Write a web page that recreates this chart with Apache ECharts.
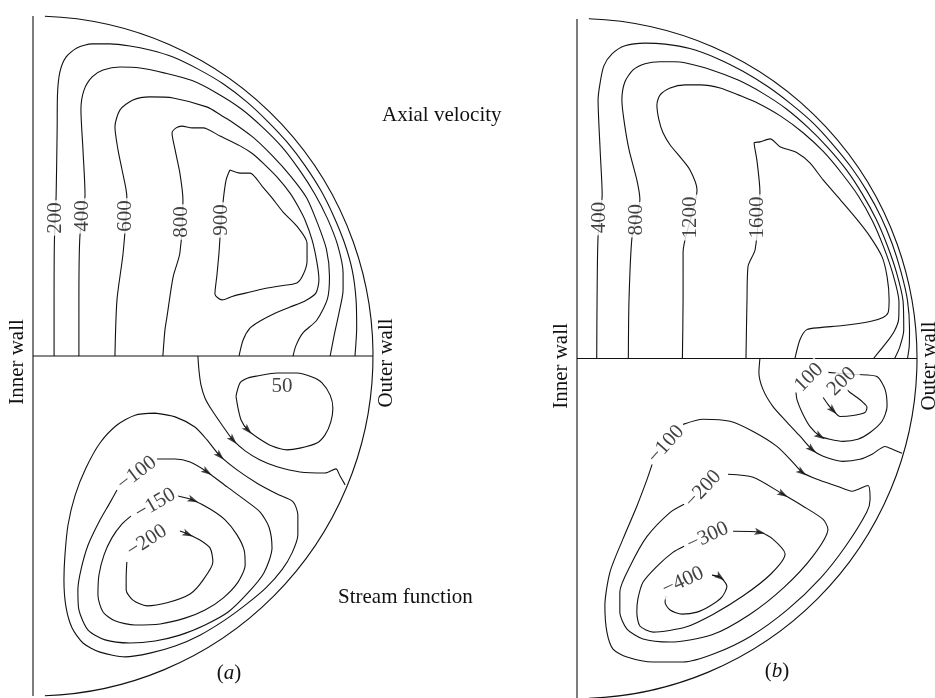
<!DOCTYPE html>
<html><head><meta charset="utf-8">
<script src="https://cdn.jsdelivr.net/npm/echarts@6/dist/echarts.min.js"></script>
<style>html,body{margin:0;padding:0;background:#fff}#c{width:935px;height:698px}</style>
</head><body><div id="c"></div>
<script>
// Coordinates: x = distance from inner wall, y = distance from the mid-plane, both in % of pipe radius.
// ---------- Panel (a) : axial velocity contours (upper half) ----------
const A_U200 = [[6.2,0],[6.2,16.5],[6.3,33.8],[6.8,47.1],[7.1,66.5],[7.2,76.8],[7.9,83.5],[9.7,87.9],[12.9,90.6],[17.4,91.8],[22.6,91.8],[28.5,91.2],[34.4,90.0],[41.0,88.0],[48.7,84.3],[56.0,80.0],[62.8,74.8],[69.0,69.0],[74.8,62.8],[80.0,56.0],[84.6,48.8],[88.4,41.2],[91.6,33.3],[93.9,25.2],[95.0,16.8],[95.2,8.3],[94.7,0]];
const A_U400 = [[13.5,0],[13.5,16.5],[13.8,35.3],[15.3,47.4],[14.7,60.6],[14.1,72.4],[15.0,78.2],[17.4,82.1],[20.6,84.1],[25.6,85.0],[31.5,84.7],[38.8,83.2],[46.8,81.0],[54.1,77.3],[61.1,72.8],[67.4,67.4],[73.2,61.5],[78.3,54.8],[82.8,47.8],[86.6,40.4],[89.6,32.6],[91.2,24.4],[91.2,19.4],[90.0,12.7],[88.6,6.2],[87.4,0]];
const A_U600 = [[24.1,0],[24.7,16.5],[26.5,30.3],[27.6,46.8],[26.2,54.7],[25.0,60.6],[24.1,67.4],[25.6,72.4],[29.4,75.3],[34.4,76.2],[41.2,75.9],[51.3,73.2],[55.3,70.8],[58.0,69.2],[64.5,64.5],[70.3,59.0],[75.7,53.0],[80.5,46.5],[83.7,39.0],[86.3,31.4],[87.2,23.4],[86.6,16.8],[83.5,10.6],[79.4,6.8],[77.4,3.2],[76.5,0]];
const A_U800 = [[38.2,0],[38.8,7.6],[39.4,11.5],[41.2,23.2],[43.2,30.3],[44.1,45.9],[43.2,53.8],[41.8,60.6],[40.9,65.6],[42.1,67.1],[43.8,67.6],[46.8,67.1],[50.0,67.1],[55.0,64.7],[60.9,61.8],[64.7,59.4],[68.2,56.2],[71.8,52.6],[75.6,47.9],[77.9,44.1],[80.0,40.0],[82.1,34.1],[83.5,27.6],[84.1,22.4],[83.2,18.5],[80.0,16.2],[75.6,14.4],[71.2,12.6],[66.8,10.3],[63.8,8.2],[61.8,4.7],[60.6,0]];
const A_U900 = [[57.9,54.7],[60.9,53.8],[63.8,53.8],[67.6,49.7],[70.3,46.5],[73.5,42.4],[77.6,38.2],[80.6,33.2],[80.6,27.9],[79.4,23.8],[77.6,21.5],[72.6,20.6],[67.6,19.7],[63.8,18.8],[58.8,17.6],[55.6,16.5],[53.5,18.2],[54.1,23.8],[54.7,30.3],[55.0,34.7],[55.9,45.3],[56.8,51.8],[57.9,54.7]];
// ---------- Panel (a) : stream function contours (lower half), points in flow order ----------
const A_PSI_P50 = [[59.7,-11.8],[60.3,-15.3],[61.2,-18.8],[63.2,-21.8],[66.2,-24.1],[70.3,-26.5],[74.7,-27.6],[78.5,-27.1],[83.5,-25.6],[85.9,-23.2],[87.6,-19.4],[88.2,-15.3],[87.4,-11.5],[85.0,-7.9],[82.1,-6.2],[77.6,-5.0],[71.8,-5.0],[65.9,-5.9],[63.2,-6.5],[60.9,-7.9],[59.7,-11.8]];
const A_PSI_0 = [[48.5,0],[48.8,-4.1],[49.4,-8.5],[50.6,-12.4],[52.6,-15.9],[55.6,-20.3],[58.8,-24.7],[62.4,-27.9],[66.8,-30.6],[71.8,-32.6],[78.5,-34.1],[85.9,-34.4],[89.1,-33.2],[90.3,-35.3],[91.8,-37.9]];
const A_PSI_M50 = [[35.9,-16.8],[41.8,-17.9],[47.6,-20.9],[51.2,-24.7],[55.0,-29.4],[60.0,-33.5],[65.9,-37.4],[71.8,-40.6],[76.5,-42.9],[77.9,-46.8],[77.9,-52.6],[76.2,-57.9],[73.2,-62.9],[68.5,-68.2],[62.9,-72.9],[56.5,-77.6],[49.1,-82.1],[41.8,-85.3],[34.4,-87.4],[27.1,-88.5],[19.7,-87.1],[14.7,-84.4],[11.5,-80.0],[9.7,-73.8],[9.1,-65.9],[9.4,-58.5],[10.3,-49.7],[12.4,-40.9],[15.6,-32.9],[19.7,-25.6],[24.7,-20.3],[30.0,-17.4],[35.9,-16.8]];
const A_PSI_M100 = [[36.5,-30.3],[41.8,-30.3],[46.2,-31.2],[51.2,-34.1],[57.1,-38.5],[62.4,-42.4],[66.8,-45.9],[69.4,-50.3],[70.3,-56.5],[67.9,-63.8],[63.2,-69.7],[57.4,-75.3],[50.6,-79.1],[43.2,-82.1],[35.9,-83.8],[28.5,-84.4],[21.2,-83.5],[16.2,-80.6],[13.5,-74.7],[13.2,-68.8],[14.1,-62.9],[16.2,-55.6],[19.4,-48.8],[22.6,-43.2],[24.7,-39.4]];
const A_PSI_M150 = [[42.6,-41.2],[47.1,-42.4],[52.1,-45.0],[56.5,-48.2],[60.0,-52.6],[62.1,-57.1],[62.4,-61.5],[60.3,-66.5],[55.9,-71.2],[50.6,-74.7],[44.7,-77.1],[37.4,-78.8],[30.0,-79.1],[24.1,-77.9],[20.6,-75.3],[19.1,-70.3],[19.4,-64.4],[20.9,-58.5],[23.2,-53.5],[26.2,-49.4],[28.8,-47.1]];
const A_PSI_M200 = [[43.2,-51.5],[45.6,-52.4],[49.1,-54.1],[52.1,-56.5],[52.9,-60.6],[50.0,-65.9],[46.2,-70.0],[39.4,-72.6],[33.5,-73.5],[29.4,-71.8],[27.4,-68.8],[27.4,-65.3],[27.6,-60.6]];
// ---------- Panel (b) : axial velocity contours ----------
const B_U400 = [[5.8,0],[5.9,17.4],[6.2,35.9],[7.4,48.2],[6.8,61.5],[6.2,76.2],[6.8,81.2],[7.9,86.2],[10.3,89.7],[14.1,92.1],[20.0,92.9],[25.9,92.6],[33.2,91.3],[41.2,88.4],[48.8,84.6],[56.1,80.1],[62.9,75.0],[69.4,69.4],[75.2,63.1],[80.6,56.4],[85.3,49.3],[89.4,41.7],[92.7,33.8],[95.3,25.5],[97.2,17.1],[97.8,8.6],[97.7,3.4],[97.2,0]];
const B_U800 = [[15.1,0],[15.3,17.4],[16.2,35.9],[18.5,46.8],[17.6,52.6],[15.3,61.5],[13.8,70.3],[13.2,76.2],[14.1,81.5],[16.5,85.0],[20.0,86.8],[24.4,87.4],[28.8,87.4],[31.7,87.1],[39.6,85.0],[47.4,82.0],[54.7,78.1],[61.6,73.5],[68.0,68.0],[73.9,62.0],[79.3,55.5],[83.9,48.5],[88.0,41.0],[91.3,33.2],[94.0,25.2],[95.9,16.9],[96.1,8.4],[94.9,3.3],[93.4,0]];
const B_U1200 = [[31.0,0],[31.2,17.4],[31.2,31.2],[35.3,49.7],[33.2,55.6],[30.3,59.4],[27.4,62.9],[25.3,66.5],[24.1,70.3],[23.5,74.7],[24.4,77.6],[27.4,79.7],[31.8,80.6],[36.2,80.6],[42.1,79.7],[48.3,77.3],[52.8,75.4],[59.9,71.4],[66.5,66.5],[72.5,60.9],[77.9,54.5],[82.8,47.8],[86.9,40.5],[90.2,32.8],[92.9,24.9],[94.7,16.7],[94.6,11.6],[93.4,8.2],[91.1,4.8],[87.2,0]];
const B_U1600 = [[49.7,0],[50.0,17.4],[50.3,27.1],[52.4,32.1],[53.8,49.1],[52.9,58.5],[52.1,63.5],[53.8,63.8],[56.8,64.7],[59.7,62.4],[64.7,60.6],[68.5,57.6],[72.4,52.6],[77.4,46.8],[82.4,40.9],[86.2,35.9],[89.7,30.0],[91.2,24.1],[91.8,17.4],[91.5,13.5],[90.0,12.1],[86.2,10.9],[78.2,9.7],[71.5,9.1],[67.6,8.5],[65.6,5.6],[64.1,0]];
// ---------- Panel (b) : stream function contours ----------
const B_PSI_P100 = [[64.4,-10.0],[64.7,-12.1],[66.2,-15.9],[68.5,-20.0],[71.5,-22.9],[74.4,-23.8],[78.2,-24.4],[82.6,-23.8],[86.2,-21.8],[89.7,-18.5],[91.2,-14.1],[90.6,-9.1],[88.2,-5.3],[82.4,-4.7],[77.9,-4.4],[73.8,-4.1]];
const B_PSI_P200 = [[72.4,-11.5],[73.8,-13.5],[75.3,-15.3],[77.4,-17.1],[81.2,-16.8],[84.7,-15.9],[85.3,-14.4],[84.1,-12.9],[82.4,-11.5],[80.3,-10.0],[79.4,-9.1]];
const B_PSI_0 = [[53.8,0],[53.5,-4.1],[54.7,-9.1],[57.6,-14.1],[61.8,-18.8],[65.6,-22.9],[69.1,-26.8],[72.4,-28.8],[78.2,-30.3],[83.2,-29.7],[86.8,-28.2],[90.6,-25.9],[92.9,-26.8],[95.6,-27.9]];
const B_PSI_M100 = [[31.2,-19.4],[37.1,-17.9],[45.0,-18.5],[51.8,-21.5],[58.8,-25.9],[63.5,-30.6],[66.2,-33.5],[70.6,-35.6],[76.5,-37.6],[80.9,-39.1],[85.6,-37.4],[86.2,-41.5],[85.2,-45.3],[79.0,-55.3],[71.7,-64.6],[62.0,-73.9],[51.1,-81.8],[40.5,-86.9],[31.2,-89.4],[22.4,-89.4],[14.7,-87.9],[10.6,-85.6],[8.8,-80.6],[8.2,-72.9],[9.7,-62.9],[13.5,-53.2],[17.6,-43.5],[20.6,-35.6],[22.1,-31.2]];
const B_PSI_M200 = [[44.4,-34.1],[51.8,-35.0],[60.6,-40.0],[66.5,-43.5],[72.4,-47.4],[73.8,-50.3],[69.4,-58.2],[60.8,-67.5],[50.8,-75.4],[39.7,-81.4],[27.4,-83.5],[19.4,-82.6],[14.7,-79.7],[12.6,-74.7],[12.6,-68.8],[15.6,-61.2],[20.6,-52.4],[27.4,-45.3],[31.5,-42.9]];
const B_PSI_M300 = [[45.9,-50.9],[53.8,-51.2],[57.6,-53.2],[61.2,-57.6],[57.1,-63.4],[48.9,-69.9],[40.1,-75.3],[32.0,-79.1],[22.4,-80.6],[18.5,-78.8],[17.6,-74.7],[17.9,-70.9],[19.4,-65.9],[23.5,-61.2],[28.2,-57.1],[31.5,-55.3]];
const B_PSI_M400 = [[39.7,-63.8],[42.1,-64.4],[44.1,-67.1],[42.6,-70.3],[39.1,-72.9],[35.3,-74.7],[30.9,-75.3],[27.4,-74.1],[25.9,-71.8],[26.2,-70.0]];

// Contour labels: [x, y, text]
const A_LABELS = [[6.5,40.6,'200'],[14.5,41.2,'400'],[27.2,41.2,'600'],[43.7,39.4,'800'],[55.4,40.0,'900'],[30.6,-34.5,'\u2212100'],[36.0,-43.5,'\u2212150'],[33.5,-54.4,'\u2212200']];
const A_LABEL_ROT = [90,90,90,90,90,37,30,33];
const A_FREE_LABELS = [[73.2,-9.1,'50']];
const B_LABELS = [[6.7,41.5,'400'],[17.6,40.9,'800'],[33.5,41.5,'1200'],[53.2,41.5,'1600'],[68.2,-5.6,'100'],[77.9,-6.8,'200'],[26.2,-25.3,'\u2212100'],[37.1,-38.5,'\u2212200'],[38.5,-52.4,'\u2212300'],[31.2,-65.6,'\u2212400']];
const B_LABEL_ROT = [90,90,90,90,45,45,48,47,25,25];
// Flow-direction arrows: [contour, vertex index]
const A_ARROWS = [['A_PSI_P50',3],['A_PSI_0',6],['A_PSI_M50',4],['A_PSI_M100',3],['A_PSI_M150',1],['A_PSI_M200',1]];
const B_ARROWS = [['B_PSI_P100',4],['B_PSI_P200',2],['B_PSI_0',6],['B_PSI_M100',6],['B_PSI_M200',2],['B_PSI_M300',1],['B_PSI_M400',1]];
// Pipe geometry (in % of radius)
const WALL_RADIUS = 100;
const INNER_WALL = [[0,-100],[0,100]];
const MID_PLANE = [[0,0],[100,0]];

const CONTOURS = {A_U200,A_U400,A_U600,A_U800,A_U900,A_PSI_P50,A_PSI_0,A_PSI_M50,A_PSI_M100,A_PSI_M150,A_PSI_M200,
  B_U400,B_U800,B_U1200,B_U1600,B_PSI_P100,B_PSI_P200,B_PSI_0,B_PSI_M100,B_PSI_M200,B_PSI_M300,B_PSI_M400};
const PANEL_A = ['A_U200','A_U400','A_U600','A_U800','A_U900','A_PSI_P50','A_PSI_0','A_PSI_M50','A_PSI_M100','A_PSI_M150','A_PSI_M200'];
const PANEL_B = ['B_U400','B_U800','B_U1200','B_U1600','B_PSI_P100','B_PSI_P200','B_PSI_0','B_PSI_M100','B_PSI_M200','B_PSI_M300','B_PSI_M400'];

const INK = '#111';
const SERIF = '"Liberation Serif", "Times New Roman", serif';
const FS = 21;
const ARC_DEG = 88;

function line(data, g, smooth) {
  return {type:'line', xAxisIndex:g, yAxisIndex:g, data, symbol:'none', showSymbol:false, smooth: smooth,
    lineStyle:{color:INK, width:1.1}, silent:true, z:2, clip:false};
}
function wall(g) {
  return {type:'custom', xAxisIndex:g, yAxisIndex:g, data:[[0,0,WALL_RADIUS]], silent:true, z:2,
    renderItem:function(params, api){
      const c = api.coord([api.value(0), api.value(1)]);
      const e = api.coord([api.value(0)+api.value(2), api.value(1)]);
      const r = e[0]-c[0]; const a = ARC_DEG*Math.PI/180;
      return {type:'arc', shape:{cx:c[0], cy:c[1], r:r, startAngle:-a, endAngle:a, clockwise:true},
        style:{stroke:INK, fill:'none', lineWidth:1.1}};
    }};
}
function labels(list, rots, g, bg) {
  return {type:'scatter', xAxisIndex:g, yAxisIndex:g, symbolSize:0.1, itemStyle:{color:'rgba(0,0,0,0)'}, z:6, silent:true,
    data: list.map((d,i)=>({value:[d[0],d[1]], name:d[2], label:{rotate: rots ? rots[i] : 0}})),
    label:{show:true, position:'inside', formatter:'{b}', fontFamily:SERIF, fontSize:FS, color:INK,
      backgroundColor: bg ? '#fff' : 'transparent', padding:[0,2]}};
}
function arrows(list, g) {
  return {type:'scatter', xAxisIndex:g, yAxisIndex:g, symbol:'path://M4,0L8,11L4,8.5L0,11Z', symbolSize:[7,11], z:7, silent:true,
    itemStyle:{color:INK},
    data: list.map(([k,i])=>{ const p=CONTOURS[k]; const a=p[i-1], b=p[i+1];
      const ang = Math.atan2(b[1]-a[1], b[0]-a[0])*180/Math.PI;
      return {value:p[i], symbolRotate: ang-90}; })};
}

const series = [];
[[PANEL_A,0],[PANEL_B,1]].forEach(([keys,g])=>{
  series.push(wall(g), line(INNER_WALL,g,false), line(MID_PLANE,g,false));
  keys.forEach(k=>series.push(line(CONTOURS[k], g, 0.25)));
});
series.push(labels(A_LABELS, A_LABEL_ROT, 0, true), labels(A_FREE_LABELS, null, 0, false), arrows(A_ARROWS, 0));
series.push(labels(B_LABELS, B_LABEL_ROT, 1, true), arrows(B_ARROWS, 1));

function txt(x,y,text,opt){
  return Object.assign({type:'text', x:x, y:y, silent:true, z:10,
    style:{text:text, font:FS+'px '+SERIF, fill:INK, textAlign:'center', textVerticalAlign:'middle', align:'center', verticalAlign:'middle',
      rich:{i:{fontStyle:'italic', fontFamily:SERIF, fontSize:FS, fill:INK, color:INK}}}}, opt||{});
}
const leftTxt = (x,y,t)=>{const o=txt(x,y,t); o.style.textAlign='left'; o.style.align='left'; return o;};

const chart = echarts.init(document.getElementById('c'), null, {renderer:'canvas'});
chart.setOption({
  animation:false,
  backgroundColor:'#fff',
  grid:[{left:33, top:16, width:340, height:680},{left:577, top:19, width:340, height:680}],
  xAxis:[{gridIndex:0,type:'value',min:0,max:100,show:false},{gridIndex:1,type:'value',min:0,max:100,show:false}],
  yAxis:[{gridIndex:0,type:'value',min:-100,max:100,show:false},{gridIndex:1,type:'value',min:-100,max:100,show:false}],
  series: series,
  graphic:[
    leftTxt(382,115,'Axial velocity'),
    leftTxt(338,597,'Stream function'),
    txt(229,673,'({i|a})'),
    txt(777,671,'({i|b})'),
    txt(17,362,'Inner wall',{rotation:Math.PI/2}),
    txt(386,363,'Outer wall',{rotation:Math.PI/2}),
    txt(561,366,'Inner wall',{rotation:Math.PI/2}),
    txt(929,366,'Outer wall',{rotation:Math.PI/2})
  ]
});
</script></body></html>
